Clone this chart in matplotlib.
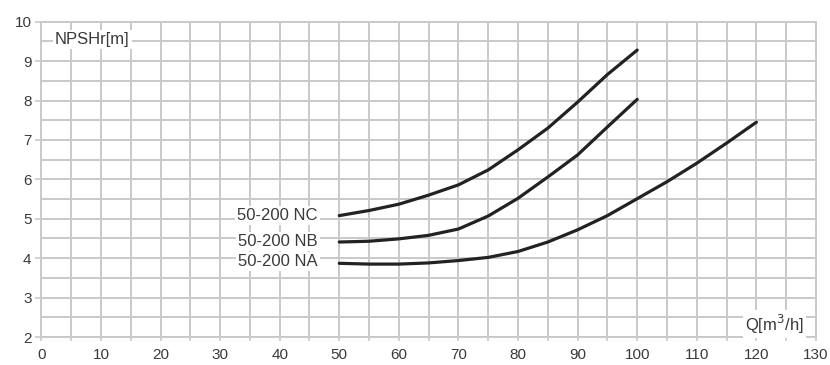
import matplotlib
matplotlib.use('Agg')
import matplotlib.pyplot as plt
from matplotlib.ticker import MultipleLocator

plt.rcParams['font.family'] = ['Liberation Sans', 'DejaVu Sans']

# flow rate Q [m3/h] and NPSHr [m]
q_short = [50, 55, 60, 65, 70, 75, 80, 85, 90, 95, 100]
npsh_nc = [5.08, 5.21, 5.37, 5.60, 5.86, 6.24, 6.75, 7.30, 7.96, 8.66, 9.28]
npsh_nb = [4.41, 4.43, 4.49, 4.58, 4.74, 5.07, 5.52, 6.06, 6.62, 7.33, 8.03]
q_long = [50, 55, 60, 65, 70, 75, 80, 85, 90, 95, 100, 105, 110, 115, 120]
npsh_na = [3.87, 3.85, 3.85, 3.88, 3.94, 4.02, 4.17, 4.41, 4.72, 5.08, 5.51, 5.94, 6.41, 6.92, 7.45]

curve_labels = ["50-200 NC", "50-200 NB", "50-200 NA"]
label_y = [5.08, 4.42, 3.92]

grid_col = "#c9c9c9"
text_col = "#3a3a3a"
line_col = "#222222"

fig = plt.figure(figsize=(8.3, 3.65), dpi=100)
ax = fig.add_axes([0.0498, 0.0767, 0.9333, 0.8638])

ax.set_xlim(0, 130)
ax.set_ylim(2, 10)
ax.xaxis.set_major_locator(MultipleLocator(10))
ax.xaxis.set_minor_locator(MultipleLocator(5))
ax.yaxis.set_major_locator(MultipleLocator(1))
ax.yaxis.set_minor_locator(MultipleLocator(0.5))
ax.grid(True, which='both', color=grid_col, linewidth=1.4)
ax.set_axisbelow(True)
for s in ax.spines.values():
    s.set_color(grid_col)
    s.set_linewidth(1.4)

ax.tick_params(axis='x', which='both', length=3, width=1.2, color=grid_col,
               labelsize=11, labelcolor=text_col, pad=5)
ax.tick_params(axis='y', which='major', length=4, width=1.2, color=grid_col,
               labelsize=11, labelcolor=text_col, pad=3)
ax.tick_params(axis='y', which='minor', length=0)

series = [(q_short, npsh_nc), (q_short, npsh_nb), (q_long, npsh_na)]
box = dict(facecolor='white', edgecolor='none', pad=1.5)
for (q, h), lab, ly in zip(series, curve_labels, label_y):
    ax.plot(q, h, color=line_col, linewidth=2.3, solid_capstyle='round',
            solid_joinstyle='round', zorder=3)
    ax.text(46.4, ly, lab, ha='right', va='center', fontsize=12,
            color=text_col, bbox=box, zorder=4)

ax.text(2.3, 9.54, "NPSHr[m]", ha='left', va='center', fontsize=12,
        color=text_col, bbox=box, zorder=4)
ax.text(128, 2.33, "Q[m$^3$/h]", ha='right', va='center', fontsize=12,
        color=text_col, bbox=box, zorder=4)

fig.savefig("out.png", dpi=100)
